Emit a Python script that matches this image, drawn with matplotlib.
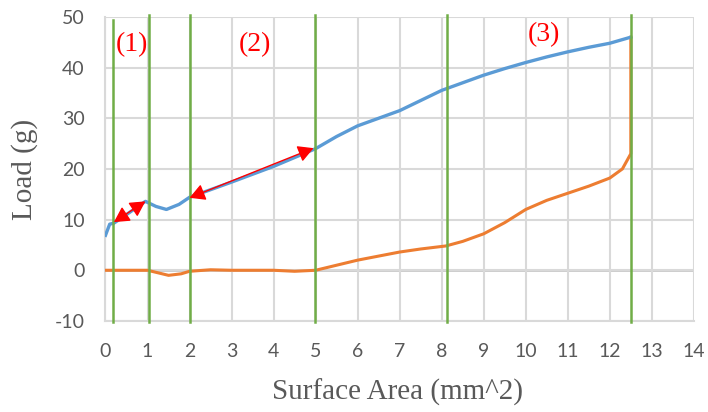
import numpy as np
import matplotlib.pyplot as plt

plt.rcParams["axes.unicode_minus"] = False

# load vs surface area, two traces read at irregular steps
area_blue = [0, 0.1, 0.2, 0.5, 0.95, 1.2, 1.45, 1.75, 2.0, 3, 4, 5, 5.5, 6, 6.5, 7,
             7.5, 8, 8.5, 9, 9.5, 10, 10.5, 11, 11.5, 12, 12.5]
load_blue = [6.9, 9.1, 9.3, 11.0, 13.6, 12.6, 12.0, 13.0, 14.4, 17.4, 20.5, 24.0, 26.4,
             28.5, 30.0, 31.5, 33.5, 35.5, 37.0, 38.5, 39.8, 41.0, 42.1, 43.1, 44.0, 44.8, 46.0]

area_orange = [0, 0.5, 1.0, 1.2, 1.5, 1.8, 2.0, 2.5, 3, 4, 4.5, 5, 5.5, 6, 6.5, 7,
               7.5, 8.1, 8.5, 9, 9.5, 10, 10.5, 11, 11.5, 12, 12.3, 12.5, 12.5]
load_orange = [0, 0, 0, -0.4, -1.0, -0.7, -0.2, 0.1, 0, 0, -0.2, 0, 1.0, 2.0, 2.8, 3.6,
               4.2, 4.8, 5.7, 7.2, 9.4, 12.0, 13.8, 15.2, 16.6, 18.2, 20.0, 23.0, 46.0]

# stage boundaries
boundaries = [0.19, 1.04, 2.0, 4.98, 8.12, 12.5]

# stage labels: text, x, y
stage_text = ["(1)", "(2)", "(3)"]
stage_x = [0.62, 3.55, 10.43]
stage_y = [44.5, 44.5, 46.5]

# double arrows along the slope: (x0, y0, x1, y1)
arrows = [(0.2, 9.5, 0.95, 13.6), (2.0, 14.3, 4.95, 24.1)]

fig = plt.figure(figsize=(7.08, 4.12), dpi=100)
ax = fig.add_axes([0.149, 0.221, 0.831, 0.738])

grid_c = "#d9d9d9"
text_c = "#595959"

ax.set_xlim(0, 14)
ax.set_ylim(-10, 50)
ax.set_xticks(np.arange(0, 15, 1))
ax.set_yticks(np.arange(-10, 51, 10))
ax.grid(True, color=grid_c, lw=1.5, zorder=0)
ax.axhline(0, color="#bfbfbf", lw=1.8, zorder=1)
for s in ["top", "right"]:
    ax.spines[s].set_visible(False)
ax.spines["left"].set_color(grid_c)
ax.spines["left"].set_linewidth(1.5)
ax.spines["bottom"].set_color(grid_c)
ax.spines["bottom"].set_linewidth(1.5)
ax.tick_params(length=0, labelsize=14, labelcolor=text_c)
ax.tick_params(axis="x", pad=16)
ax.tick_params(axis="y", pad=15)
for lab in ax.get_xticklabels() + ax.get_yticklabels():
    lab.set_family("Lato")

ax.plot(area_orange, load_orange, color="#ed7d31", lw=2.2, zorder=3,
        solid_joinstyle="round")
ax.plot(area_blue, load_blue, color="#5b9bd5", lw=2.4, zorder=3,
        solid_joinstyle="round")

for i, b in enumerate(boundaries):
    top = 0.99 if i == 0 else 1.005
    ax.axvline(b, ymin=-0.005, ymax=top, color="#70ad47", lw=1.8, zorder=4,
               clip_on=False)

for (x0, y0, x1, y1) in arrows:
    ax.annotate("", xy=(x1, y1), xytext=(x0, y0),
                arrowprops=dict(arrowstyle="<|-|>,head_length=0.55,head_width=0.3",
                                color="red", lw=1.0, mutation_scale=17,
                                shrinkA=0, shrinkB=0),
                zorder=5)

for t, x, y in zip(stage_text, stage_x, stage_y):
    ax.text(x, y, t, color="red", fontsize=20, family="Liberation Serif",
            ha="center", va="center", zorder=6)

ax.set_xlabel("Surface Area (mm^2)", family="Liberation Serif", fontsize=21,
              color=text_c)
ax.set_ylabel("Load (g)", family="Liberation Serif", fontsize=21, color=text_c)
ax.xaxis.set_label_coords(0.497, -0.234)
ax.yaxis.set_label_coords(-0.137, 0.497)
ax.xaxis.label.set_va("center")
ax.yaxis.label.set_va("center")

fig.savefig("out.png", dpi=100)
